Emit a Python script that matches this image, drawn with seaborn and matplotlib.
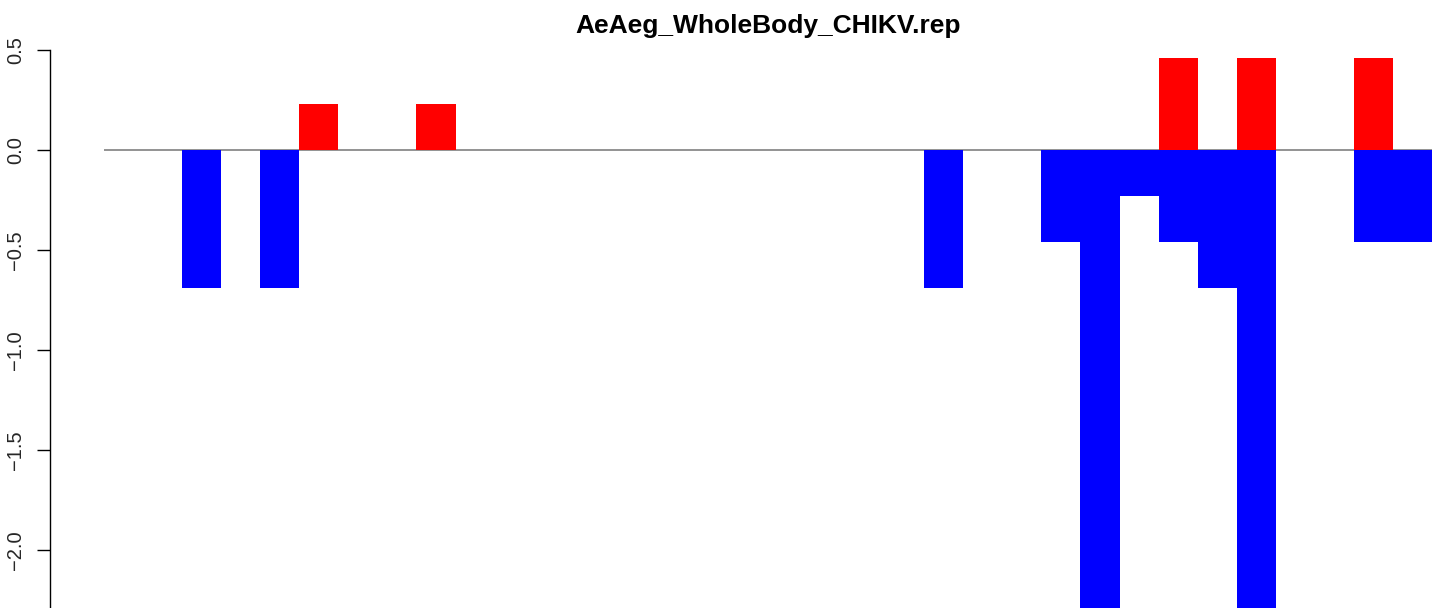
import matplotlib
matplotlib.use("Agg")
import matplotlib.pyplot as plt
import seaborn as sns
import pandas as pd

title = "AeAeg_WholeBody_CHIKV.rep"
positions = [str(i) for i in range(1, 35)]
up_values = [0, 0, 0, 0, 0, 0.23, 0, 0, 0.23, 0,
             0, 0, 0, 0, 0, 0, 0, 0, 0, 0,
             0, 0, 0, 0, 0, 0, 0, 0.46, 0, 0.46,
             0, 0, 0.46, 0]
down_values = [0, 0, -0.69, 0, -0.69, 0, 0, 0, 0, 0,
               0, 0, 0, 0, 0, 0, 0, 0, 0, 0,
               0, -0.69, 0, 0, -0.46, -2.5, -0.23, -0.46, -0.69, -2.5,
               0, 0, -0.46, -0.46]
ytick_vals = [0.5, 0.0, -0.5, -1.0, -1.5, -2.0]
ytick_labels = ["0.5", "0.0", "\u22120.5", "\u22121.0", "\u22121.5", "\u22122.0"]

sns.set_theme(style="white")
plt.rcParams["font.family"] = ["Liberation Sans", "DejaVu Sans"]

W, H, DPI = 1452, 608, 100
fig = plt.figure(figsize=(W / DPI, H / DPI), dpi=DPI)
ax = fig.add_axes([104 / W, 0, 1328 / W, (H - 40) / H])

df = pd.DataFrame({"pos": positions, "up": up_values, "down": down_values})

ax.axhline(0, color="#808080", lw=1.2, zorder=0)
sns.barplot(data=df, x="pos", y="up", order=positions, color="#ff0000",
            saturation=1, width=1.0, linewidth=0, ax=ax, zorder=2)
sns.barplot(data=df, x="pos", y="down", order=positions, color="#0000ff",
            saturation=1, width=1.0, linewidth=0, ax=ax, zorder=2)

ax.set_xlim(-0.5, 33.5)
ax.set_ylim(-2.29, 0.55)
ax.set_xlabel("")
ax.set_ylabel("")
ax.set_xticks([])

for s in ["top", "right", "bottom"]:
    ax.spines[s].set_visible(False)
ax.spines["left"].set_position(("outward", 54 * 72 / DPI))
ax.spines["left"].set_bounds(-2.29, 0.5)
ax.spines["left"].set_color("black")
ax.spines["left"].set_linewidth(1.0)

ax.set_yticks(ytick_vals)
ax.set_yticklabels(ytick_labels, rotation=90, va="center", ha="right", fontsize=14.5)
ax.tick_params(axis="y", direction="out", length=13 * 72 / DPI, width=1.0,
               color="black", pad=12 * 72 / DPI, left=True)
ax.set_facecolor("white")

fig.text(768 / W, 1 - 33 / H, title, ha="center", va="baseline",
         fontsize=19, fontweight="bold", color="black")

fig.savefig("out.png", dpi=DPI, facecolor="white")
